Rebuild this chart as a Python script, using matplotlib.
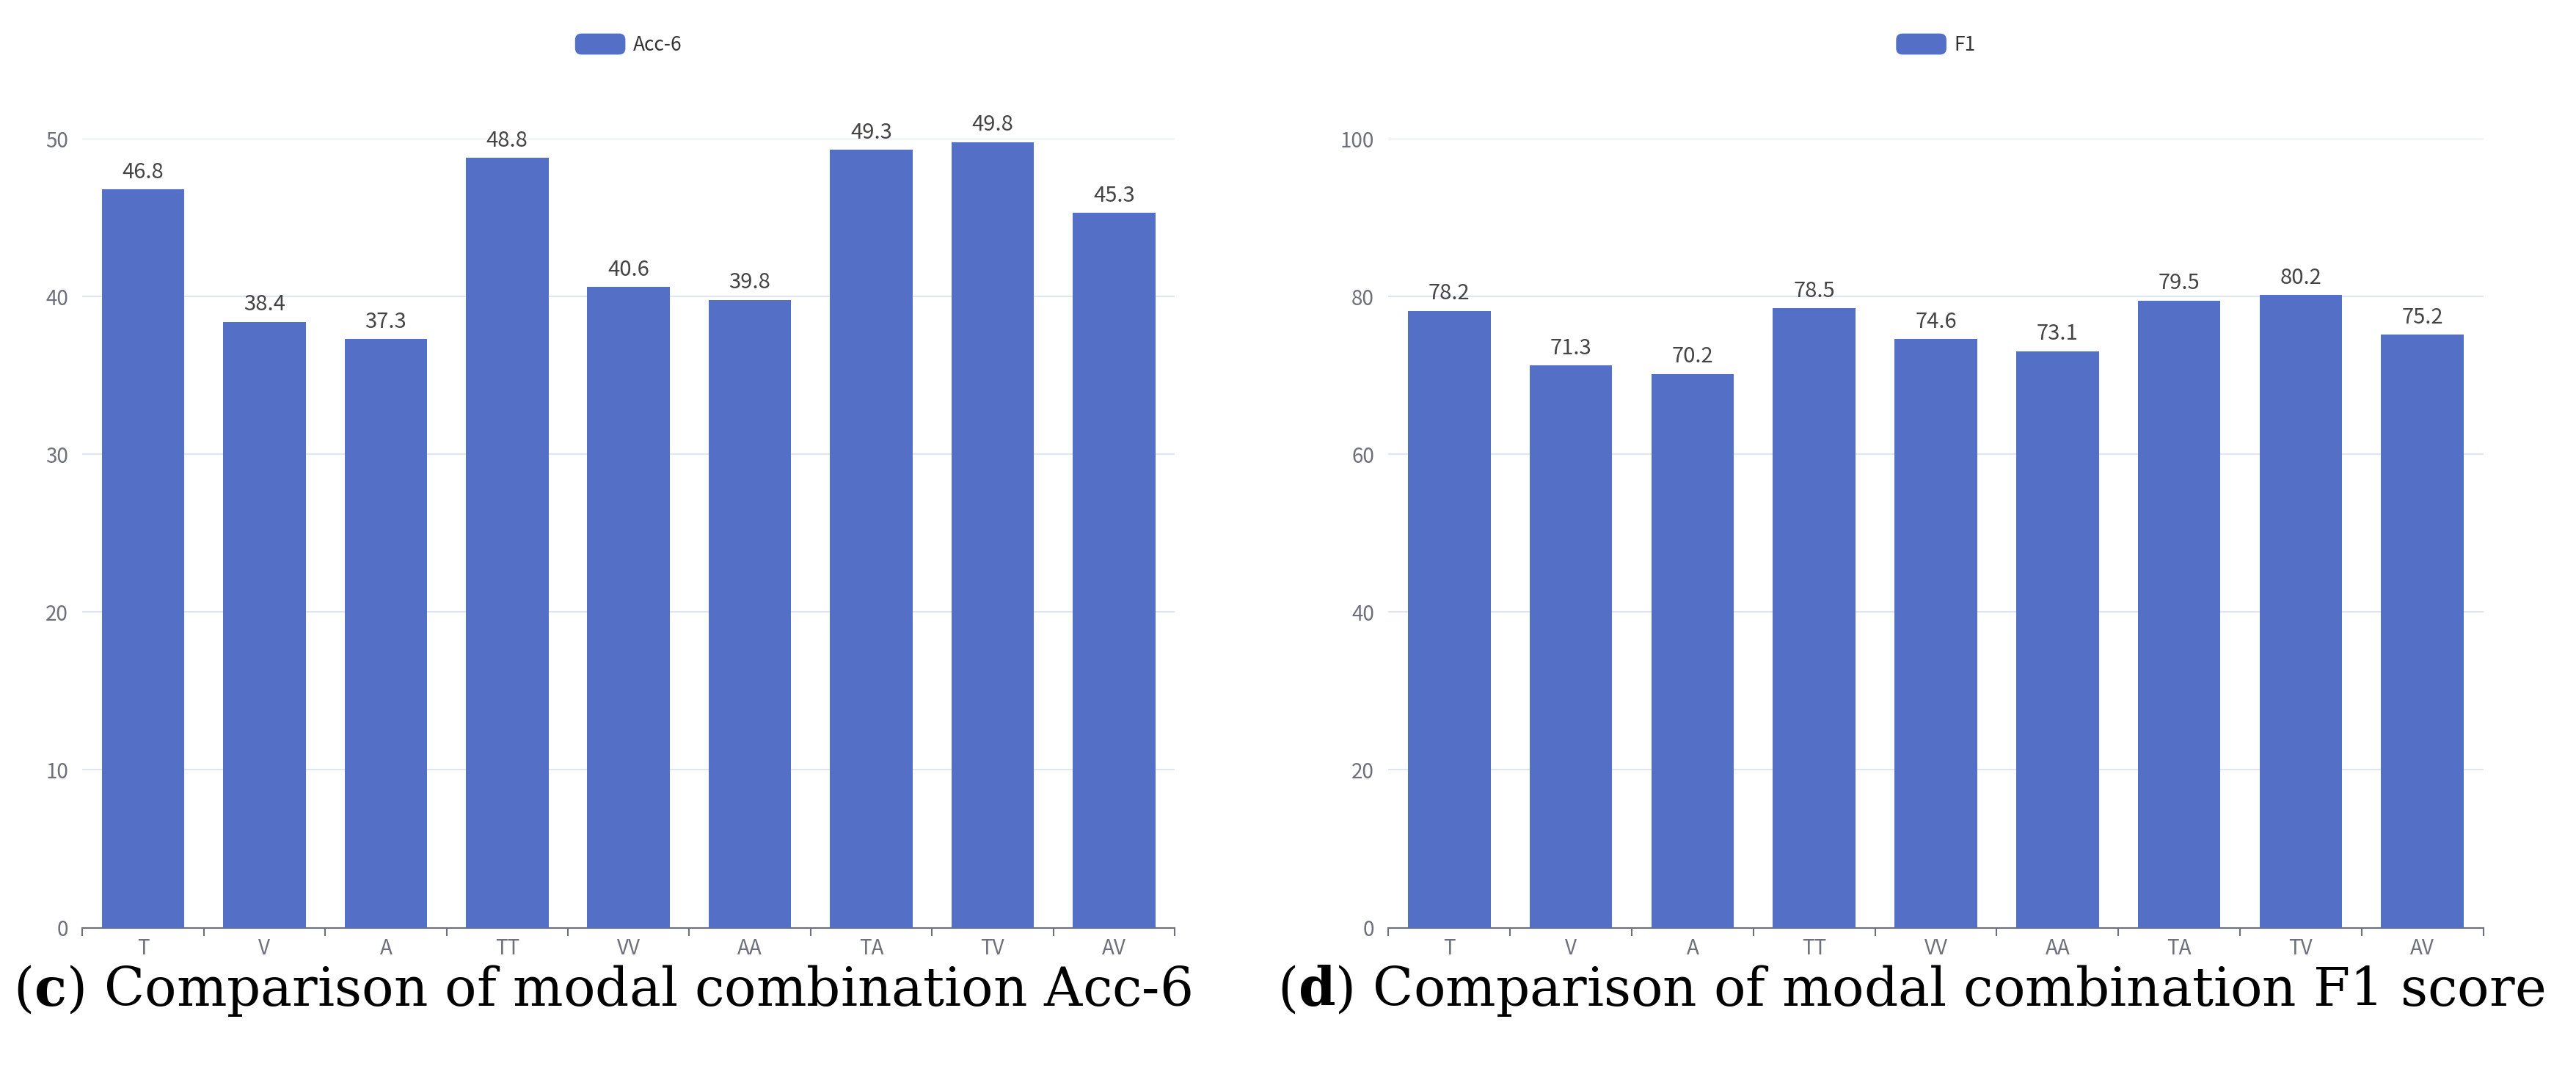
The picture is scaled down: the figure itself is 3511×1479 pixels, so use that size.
import numpy as np
import matplotlib.pyplot as plt
from matplotlib.patches import FancyBboxPatch
from matplotlib.legend_handler import HandlerPatch
from matplotlib.ticker import FixedLocator

plt.rcParams['mathtext.fontset'] = 'custom'
plt.rcParams['mathtext.rm'] = 'DejaVu Serif'
plt.rcParams['mathtext.bf'] = 'DejaVu Serif:bold'

categories = ['T', 'V', 'A', 'TT', 'VV', 'AA', 'TA', 'TV', 'AV']
acc6 = [46.8, 38.4, 37.3, 48.8, 40.6, 39.8, 49.3, 49.8, 45.3]
f1 = [78.2, 71.3, 70.2, 78.5, 74.6, 73.1, 79.5, 80.2, 75.2]

acc_ticks = [0, 10, 20, 30, 40, 50]
f1_ticks = [0, 20, 40, 60, 80, 100]

bar_color = '#5470c6'
axis_color = '#6E7079'
grid_color = '#E0E6F1'
sans = ['Noto Sans CJK SC', 'DejaVu Sans']


class RoundHandler(HandlerPatch):
    def create_artists(self, legend, orig_handle, xdescent, ydescent,
                       width, height, fontsize, trans):
        p = FancyBboxPatch((-xdescent, -ydescent), width, height,
                           boxstyle='round,pad=0,rounding_size=%f' % (height * 0.3),
                           facecolor=bar_color, edgecolor='none',
                           transform=trans)
        return [p]


def draw(ax, values, yticks, name):
    x = np.arange(len(categories))
    bars = ax.bar(x, values, width=0.68, color=bar_color, label=name, zorder=3)
    ax.set_xlim(-0.5, len(categories) - 0.5)
    ax.set_ylim(yticks[0], yticks[-1])
    ax.set_yticks(yticks)
    ax.grid(axis='y', color=grid_color, linewidth=1.5, zorder=0)
    for s in ['top', 'right', 'left']:
        ax.spines[s].set_visible(False)
    ax.spines['bottom'].set_color(axis_color)
    ax.spines['bottom'].set_linewidth(1.5)
    ax.set_xticks(x)
    ax.set_xticklabels(categories)
    ax.xaxis.set_minor_locator(FixedLocator(np.arange(-0.5, len(categories), 1.0)))
    ax.tick_params(axis='x', which='major', length=0, pad=10,
                   labelsize=20, labelcolor=axis_color)
    ax.tick_params(axis='x', which='minor', length=8, width=1.5, color=axis_color)
    ax.tick_params(axis='y', length=0, pad=14, labelsize=20, labelcolor=axis_color)
    for lab in ax.get_xticklabels() + ax.get_yticklabels():
        lab.set_family(sans)
    for b, v in zip(bars, values):
        ax.annotate('%.1f' % v, (b.get_x() + b.get_width() / 2, v),
                    xytext=(0, 6), textcoords='offset points',
                    ha='center', va='bottom', fontsize=21, color='#444444',
                    family=sans)
    leg = ax.legend(handles=[bars.patches[0]], labels=[name],
                    handler_map={bars.patches[0]: RoundHandler()},
                    loc='center', bbox_to_anchor=(0.5, 1.12),
                    frameon=False, handlelength=2.6, handleheight=1.3,
                    handletextpad=0.4, prop={'family': sans, 'size': 19})
    for t in leg.get_texts():
        t.set_color('#333333')


fig = plt.figure(figsize=(35.11, 14.79), dpi=100)
ax1 = fig.add_axes([0.032, 0.145, 0.424, 0.727])
ax2 = fig.add_axes([0.539, 0.145, 0.425, 0.727])
draw(ax1, acc6, acc_ticks, 'Acc-6')
draw(ax2, f1, f1_ticks, 'F1')

fig.text(0.005, 0.087, r'($\mathbf{c}$) Comparison of modal combination Acc-6',
         fontsize=52, family='DejaVu Serif', va='center', ha='left')
fig.text(0.496, 0.087, r'($\mathbf{d}$) Comparison of modal combination F1 score',
         fontsize=52, family='DejaVu Serif', va='center', ha='left')

fig.savefig('out.png', dpi=100)
